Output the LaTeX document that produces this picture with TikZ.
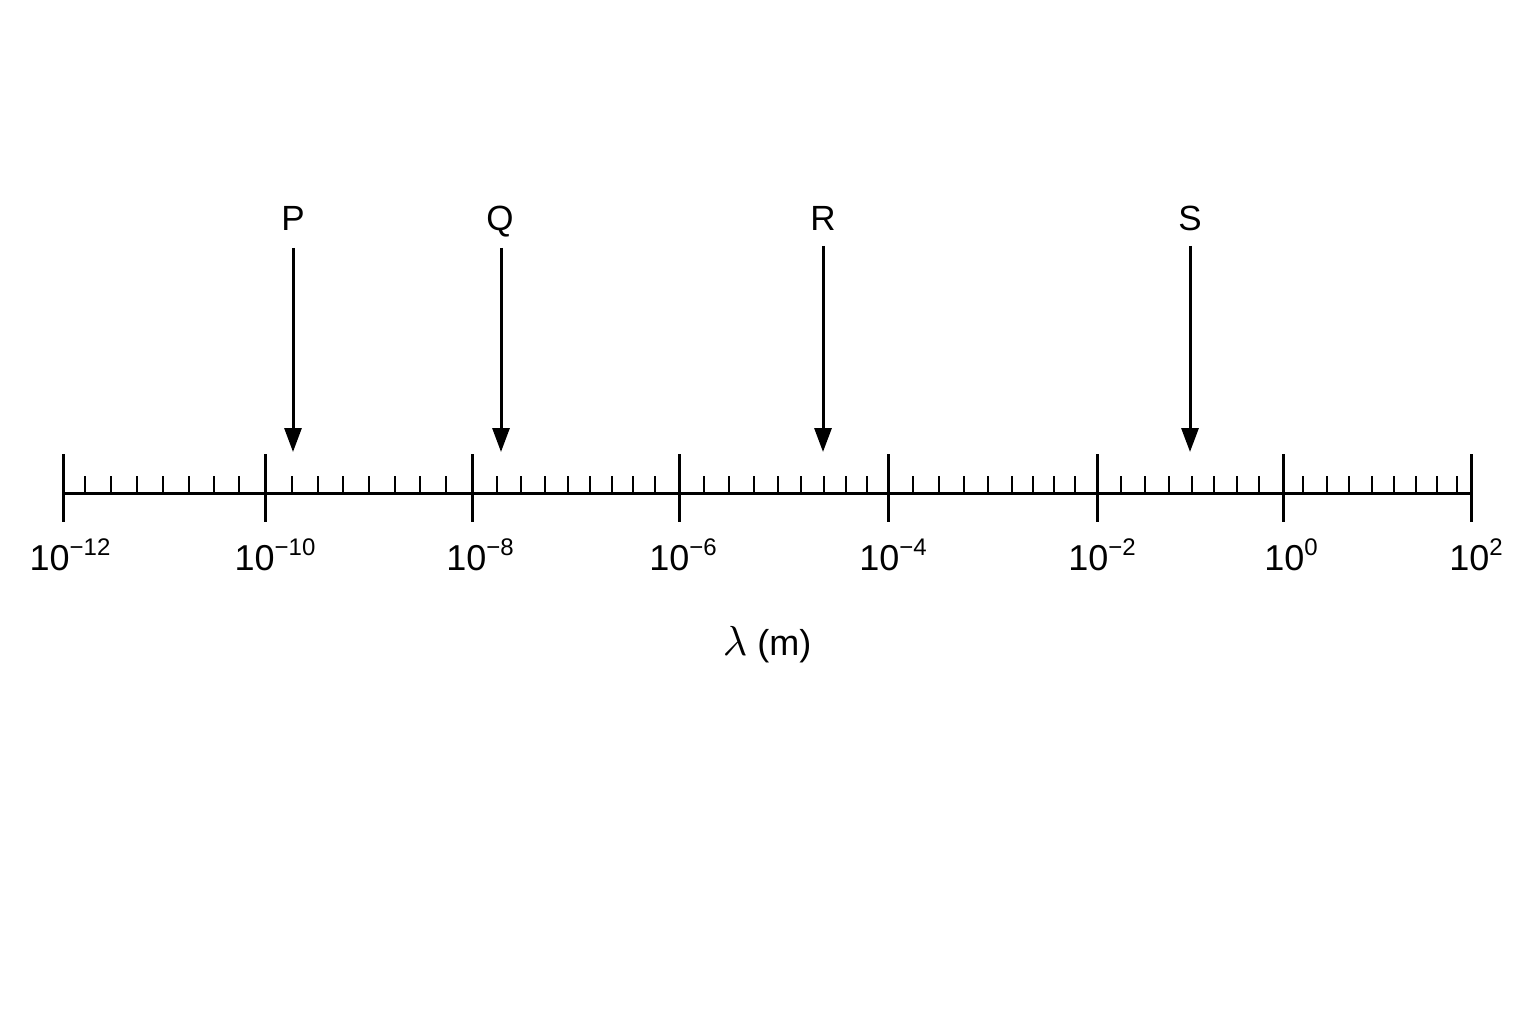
\documentclass[tikz,border=0pt]{standalone}
\usepackage{graphicx}
\usepackage{fontspec}
\setmainfont{Liberation Sans}
\usetikzlibrary{arrows.meta}
\tikzset{
  axisline/.style={line width=3pt},
  majortick/.style={line width=3pt},
  minortick/.style={line width=2.6pt},
  ptr/.style={line width=3pt,-{Triangle[length=24pt,width=17pt]}},
  letter/.style={font=\fontsize{35}{38}\selectfont,inner sep=0pt,anchor=base},
  ticklabel/.style={font=\fontsize{36}{40}\selectfont,inner sep=0pt,anchor=base},
  axislabel/.style={font=\fontsize{36}{38}\selectfont,inner sep=0pt,anchor=base}
}
\newcommand{\tenpow}[1]{10\raisebox{15pt}{\fontsize{24}{24}\selectfont #1}}
\newcommand{\biglam}{{\fontsize{10}{12}\selectfont\scalebox{4.2}{$\lambda$}}}
\begin{document}
\begin{tikzpicture}[x=1pt,y=-1pt]
\useasboundingbox[fill=white] (0,0) rectangle (1536,1024);
% axis
\coordinate (a0) at (63,493);
\coordinate (a7) at (1471,493);
\draw[axisline] (a0) -- (a7);
% major ticks
\foreach \x [count=\i] in {63,265,472,679,888,1097,1283,1471}{
  \draw[majortick] (\x,454) coordinate (mt\i) -- (\x,522);
}
% minor ticks
\foreach \x in {85,111,137,163,189,214,239,
                292,318,343,369,395,420,446,
                497,521,545,568,590,612,633,655,
                704,729,754,778,801,824,846,867,
                913,939,964,988,1012,1033,1054,1075,
                1121,1145,1169,1192,1214,1237,1259,
                1303,1327,1349,1372,1394,1416,1437,1457}{
  \draw[minortick] (\x,476) -- (\x,493);
}
% tick labels
\node[ticklabel] (l1) at (70,570)   {\tenpow{−12}};
\node[ticklabel] (l2) at (275,570)  {\tenpow{−10}};
\node[ticklabel] (l3) at (480,570)  {\tenpow{−8}};
\node[ticklabel] (l4) at (683,570)  {\tenpow{−6}};
\node[ticklabel] (l5) at (893,570)  {\tenpow{−4}};
\node[ticklabel] (l6) at (1102,570) {\tenpow{−2}};
\node[ticklabel] (l7) at (1291,570) {\tenpow{0}};
\node[ticklabel] (l8) at (1476,570) {\tenpow{2}};
% axis label
\node[axislabel] (lam) at (767,655) {\biglam{} (m)};
% pointers
\node[letter] (P) at (293,231) {P};
\node[letter] (Q) at (500,231) {Q};
\node[letter] (R) at (823,231) {R};
\node[letter] (S) at (1190,231) {S};
\coordinate (Ps) at (293,248); \coordinate (Pe) at (293,452);
\coordinate (Qs) at (501,248); \coordinate (Qe) at (501,452);
\coordinate (Rs) at (823,246); \coordinate (Re) at (823,452);
\coordinate (Ss) at (1190,246); \coordinate (Se) at (1190,452);
\draw[ptr] (Ps) -- (Pe);
\draw[ptr] (Qs) -- (Qe);
\draw[ptr] (Rs) -- (Re);
\draw[ptr] (Ss) -- (Se);
\end{tikzpicture}
\end{document}
